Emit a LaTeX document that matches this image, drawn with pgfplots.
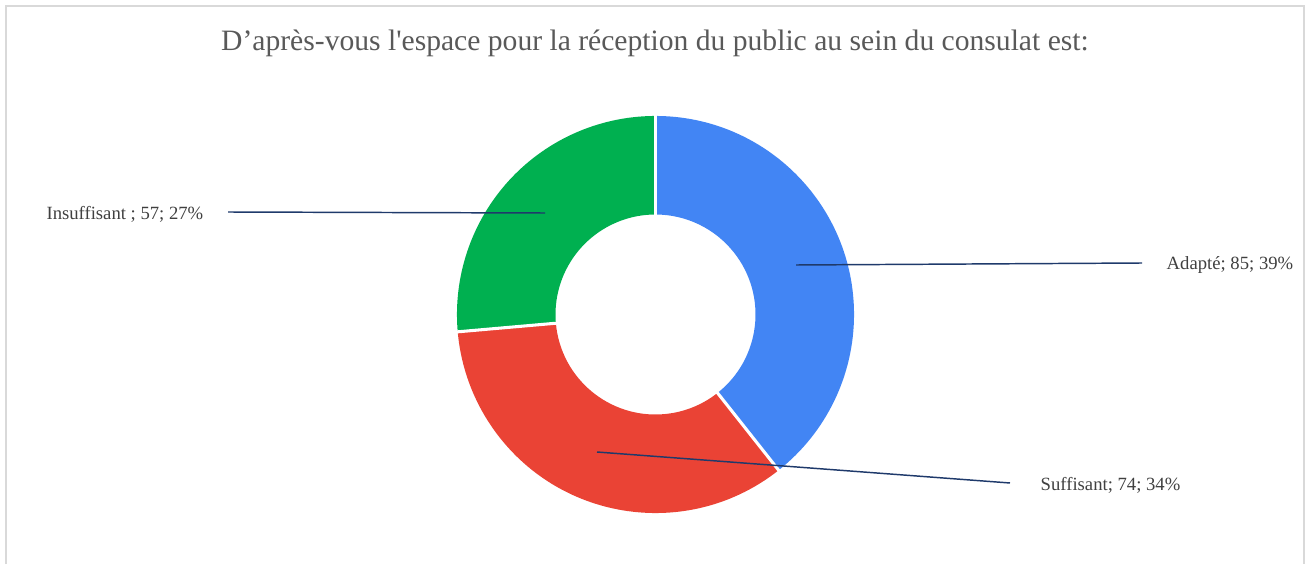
\documentclass[border=0pt]{standalone}
\usepackage{pgfplots}
\pgfplotsset{compat=1.18}
\usepackage{pgfplotstable}
\usepackage{fontspec}
\setmainfont{Liberation Serif}[Ligatures=TeXOff]
\definecolor{cA}{HTML}{4285F4}
\definecolor{cS}{HTML}{EA4335}
\definecolor{cI}{HTML}{00B050}
\definecolor{lead}{HTML}{1F3A6B}
\definecolor{ttl}{HTML}{595959}
\definecolor{lbl}{HTML}{404040}
\definecolor{frm}{HTML}{D9D9D9}

\pgfplotstableread{
value
85
74
57
}\donut
\pgfplotstablegetelem{0}{value}\of\donut \let\vA\pgfplotsretval
\pgfplotstablegetelem{1}{value}\of\donut \let\vS\pgfplotsretval
\pgfplotstablegetelem{2}{value}\of\donut \let\vI\pgfplotsretval
\pgfmathsetmacro\tot{\vA+\vS+\vI}
\pgfmathsetmacro\aZ{90}
\pgfmathsetmacro\aA{90-360*(\vA/\tot)}
\pgfmathsetmacro\aS{\aA-360*(\vS/\tot)}
\pgfmathsetmacro\aI{\aS-360*(\vI/\tot)}
\def\Ro{148.9pt}
\def\Ri{75pt}
\newcommand\sector[3]{\fill[#3] ([shift={(#1:\Ro)}]axis cs:655.5,249.5) arc[start angle=#1,end angle=#2,radius=\Ro] -- ([shift={(#2:\Ri)}]axis cs:655.5,249.5) arc[start angle=#2,end angle=#1,radius=\Ri] -- cycle;}
\newcommand\sep[1]{\draw[white, line width=2.3pt] ([shift={(#1:\Ri-2pt)}]axis cs:655.5,249.5) -- ([shift={(#1:\Ro+2pt)}]axis cs:655.5,249.5);}
\begin{document}%
\begin{tikzpicture}
\begin{axis}[
  hide axis, scale only axis, clip=false,
  x=0.75pt, y=0.75pt,
  xmin=0, xmax=1306, ymin=0, ymax=564,
]
\path (axis cs:0,0) rectangle (axis cs:1306,564);
\draw[frm, line width=1.5pt] (axis cs:5.5,0) -- (axis cs:5.5,557.5) -- (axis cs:1303.5,557.5) -- (axis cs:1303.5,0);
\node[text=ttl, font=\fontsize{22.2}{26}\selectfont] at (axis cs:655,521) {D’après-vous l'espace pour la réception du public au sein du consulat est:};
\sector{\aZ}{\aA}{cA}
\sector{\aA}{\aS}{cS}
\sector{\aS}{\aI}{cI}
\sep{\aZ}\sep{\aA}\sep{\aS}
\draw[lead, line width=1.1pt] (axis cs:796,299) -- (axis cs:1142,301);
\draw[lead, line width=1.1pt] (axis cs:597,112) -- (axis cs:1010,81);
\draw[lead, line width=1.1pt] (axis cs:228,352) -- (axis cs:545,351);
\node[anchor=west, text=lbl, font=\fontsize{14}{16}\selectfont] at (axis cs:1162,299) {Adapté; 85; 39\%};
\node[anchor=west, text=lbl, font=\fontsize{14}{16}\selectfont] at (axis cs:1036,79) {Suffisant; 74; 34\%};
\node[anchor=east, text=lbl, font=\fontsize{14}{16}\selectfont] at (axis cs:208,350) {Insuffisant ; 57; 27\%};
\end{axis}
\end{tikzpicture}%
\end{document}
